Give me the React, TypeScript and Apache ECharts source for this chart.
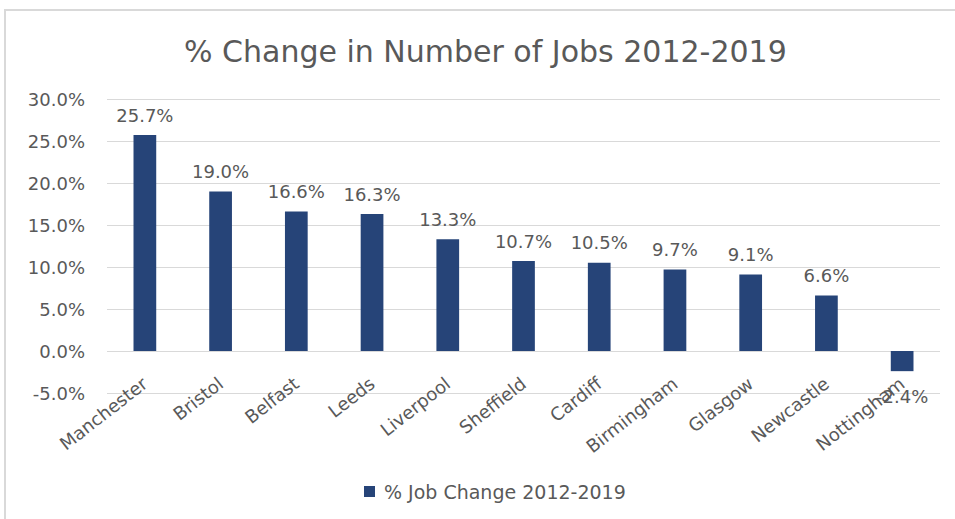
import React, { useEffect, useRef } from "react";
import * as echarts from "echarts";

const title = "% Change in Number of Jobs 2012-2019";
const seriesName = "% Job Change 2012-2019";
const cities = [
  "Manchester",
  "Bristol",
  "Belfast",
  "Leeds",
  "Liverpool",
  "Sheffield",
  "Cardiff",
  "Birmingham",
  "Glasgow",
  "Newcastle",
  "Nottingham",
];
const changes = [25.7, 19.0, 16.6, 16.3, 13.3, 10.7, 10.5, 9.7, 9.1, 6.6, -2.4];

const FONT = "DejaVu Sans";
const TEXT = "#595959";
const BAR = "#264478";

export default function App() {
  const ref = useRef<HTMLDivElement>(null);
  useEffect(() => {
    document.body.style.margin = "0";
    if (!ref.current) return;
    const chart = echarts.init(ref.current, null, { renderer: "svg" });
    chart.setOption({
      animation: false,
      backgroundColor: "#ffffff",
      graphic: [
        {
          type: "rect",
          shape: { x: 5, y: 10, width: 960, height: 520 },
          style: { fill: "none", stroke: "#d9d9d9", lineWidth: 2 },
          silent: true,
        },
      ],
      title: {
        text: title,
        left: 179,
        top: 31,
        textStyle: { fontFamily: FONT, fontSize: 30, fontWeight: "normal", color: TEXT },
      },
      legend: {
        bottom: 13,
        left: 359,
        itemWidth: 11,
        itemHeight: 11,
        icon: "rect",
        textStyle: { fontFamily: FONT, fontSize: 19, color: TEXT, padding: [0, 0, 0, 4] },
      },
      grid: { left: 107, right: 15, top: 99, bottom: 126, containLabel: false },
      xAxis: {
        type: "category",
        data: cities,
        axisLine: { show: false },
        axisTick: { show: false },
        axisLabel: {
          rotate: 38,
          interval: 0,
          margin: -12,
          fontFamily: FONT,
          fontSize: 18,
          color: TEXT,
        },
      },
      yAxis: {
        type: "value",
        min: -5,
        max: 30,
        interval: 5,
        axisLine: { show: false },
        axisTick: { show: false },
        splitLine: { lineStyle: { color: "#d9d9d9", width: 1 } },
        axisLabel: {
          fontFamily: FONT,
          fontSize: 18,
          color: TEXT,
          margin: 22,
          formatter: (v: number) => v.toFixed(1) + "%",
        },
      },
      series: [
        {
          name: seriesName,
          type: "bar",
          barWidth: "30%",
          itemStyle: { color: BAR },
          data: changes.map((v) => ({
            value: v,
            label: { position: v < 0 ? "bottom" : "top", distance: v < 0 ? 16 : 11 },
          })),
          label: {
            show: true,
            fontFamily: FONT,
            fontSize: 18,
            color: TEXT,
            formatter: (p: any) => Number(p.value).toFixed(1) + "%",
          },
        },
      ],
    });
    return () => chart.dispose();
  }, []);
  return <div ref={ref} style={{ width: 955, height: 519 }} />;
}
